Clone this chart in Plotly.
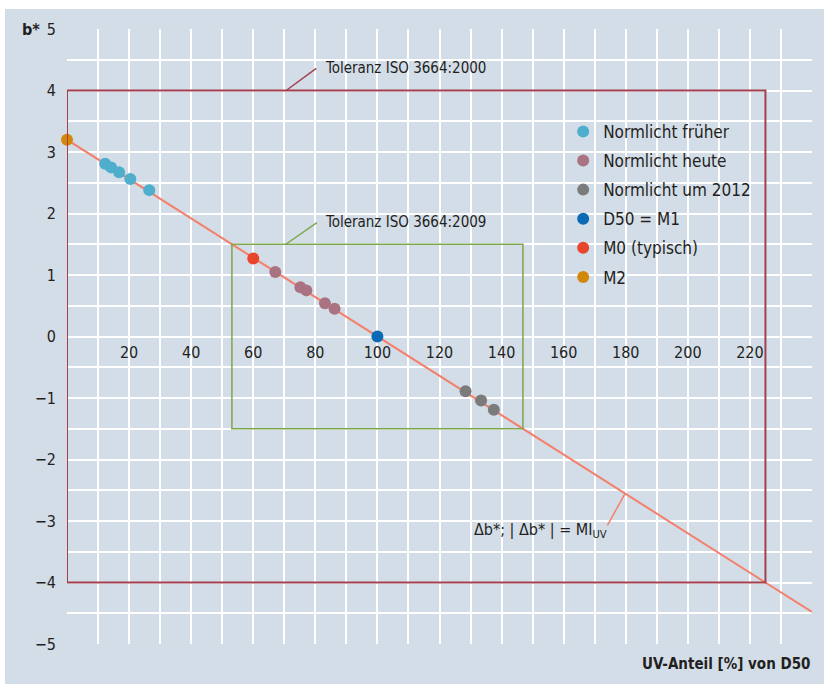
import plotly.graph_objects as go

# ---- data ----
frueher_x = [12.3, 14.2, 16.8, 20.4, 26.5]
frueher_y = [2.81, 2.75, 2.67, 2.56, 2.38]
heute_x = [67.1, 75.2, 77.1, 83.1, 86.2]
heute_y = [1.05, 0.80, 0.75, 0.54, 0.45]
um2012_x = [128.4, 133.4, 137.5]
um2012_y = [-0.89, -1.04, -1.19]
d50_x = [100]
d50_y = [0]
m0_x = [60]
m0_y = [1.27]
m2_x = [0]
m2_y = [3.2]
line_x = [0, 240]
line_y = [3.2, -4.48]
iso2000_box = [0, 225, -4, 4]
iso2009_box = [53.125, 146.875, -1.5, 1.5]

x_gridvals = list(range(10, 241, 10))
x_tickvals = list(range(20, 221, 20))
x_ticktext = [str(v) for v in x_tickvals]
y_tickvals = list(range(-5, 6))
y_ticktext = [("−" + str(abs(v)) if v < 0 else str(v)) for v in y_tickvals]

FONT = "DejaVu Sans Condensed, Liberation Sans Narrow, sans-serif"
TXT = "#231f20"
BG = "#d3dde8"
RED = "#a3404f"
GREEN = "#7ea64b"
SALMON = "#f4806c"
FS = 15

fig = go.Figure()

fig.add_trace(go.Scatter(x=line_x, y=line_y, mode="lines",
                         line=dict(color=SALMON, width=2), showlegend=False, hoverinfo="skip"))

series = [
    ("Normlicht früher", frueher_x, frueher_y, "#4eaecb"),
    ("Normlicht heute", heute_x, heute_y, "#aa7382"),
    ("Normlicht um 2012", um2012_x, um2012_y, "#7b7b7b"),
    ("D50 = M1", d50_x, d50_y, "#0a6ab5"),
    ("M0 (typisch)", m0_x, m0_y, "#e8452a"),
    ("M2", m2_x, m2_y, "#d4880a"),
]
for i, (name, xs, ys, col) in enumerate(series):
    fig.add_trace(go.Scatter(x=xs, y=ys, mode="markers", name=name, legendgroup="g%d" % i,
                             marker=dict(color=col, size=12, line=dict(width=0)),
                             cliponaxis=False))

# background with white strip top/left
fig.add_shape(type="rect", xref="paper", yref="paper", x0=-0.0832, x1=1.02, y0=-0.07, y1=1.0325,
              fillcolor=BG, line=dict(width=0), layer="below")

fig.add_shape(type="rect", x0=iso2000_box[0], x1=iso2000_box[1], y0=iso2000_box[2], y1=iso2000_box[3],
              line=dict(color=RED, width=2))
fig.add_shape(type="rect", x0=iso2009_box[0], x1=iso2009_box[1], y0=iso2009_box[2], y1=iso2009_box[3],
              line=dict(color=GREEN, width=1.5))

# leader lines
fig.add_shape(type="line", x0=70.6, y0=4.0, x1=80.3, y1=4.36, line=dict(color=RED, width=1.5))
fig.add_shape(type="line", x0=70.5, y0=1.5, x1=80.5, y1=1.85, line=dict(color=GREEN, width=1.5))
fig.add_shape(type="line", x0=174.1, y0=-3.07, x1=179.8, y1=-2.55, line=dict(color=SALMON, width=1.5))

fig.add_annotation(x=82.6, y=4.37, text="Toleranz ISO 3664:2000", showarrow=False,
                   xanchor="left", yanchor="middle", font=dict(size=FS, color=TXT, family=FONT))
fig.add_annotation(x=82.6, y=1.86, text="Toleranz ISO 3664:2009", showarrow=False,
                   xanchor="left", yanchor="middle", font=dict(size=FS, color=TXT, family=FONT))
fig.add_annotation(x=174.5, y=-3.15, text="Δb*; | Δb* | = MI<sub>UV</sub>", showarrow=False,
                   xanchor="right", yanchor="middle", font=dict(size=16, color=TXT, family=FONT))
fig.add_annotation(xref="paper", yref="paper", x=1.0, y=-0.0325, text="<b>UV-Anteil [%] von D50</b>",
                   showarrow=False, xanchor="right", yanchor="middle", font=dict(size=FS, color=TXT, family=FONT))
fig.add_annotation(xref="paper", yref="paper", x=-0.034, y=1.0, text="<b>b*</b>",
                   showarrow=False, xanchor="right", yanchor="middle", font=dict(size=16, color=TXT, family=FONT))

fig.update_layout(
    width=824, height=684,
    margin=dict(l=67, r=12, t=29, b=40),
    paper_bgcolor="white",
    plot_bgcolor="rgba(0,0,0,0)",
    font=dict(family=FONT, size=FS, color=TXT),
    showlegend=True,
    legend=dict(x=0.666, y=0.862, xanchor="left", yanchor="top", bgcolor="rgba(0,0,0,0)",
                font=dict(size=17, family=FONT, color=TXT), itemsizing="trace", tracegroupgap=4),
    xaxis=dict(range=[0, 240], tickmode="array", tickvals=x_tickvals, ticktext=x_ticktext,
               showgrid=True, gridcolor="white", gridwidth=1.5, zeroline=False, showline=False,
               minor=dict(tickmode="array", tickvals=x_gridvals, showgrid=True, gridcolor="white", gridwidth=1.5, ticks=""),
               anchor="free", position=0.5, ticks="", ticklabelstandoff=4,
               tickfont=dict(size=16, family=FONT, color=TXT)),
    yaxis=dict(range=[-5, 5], tickmode="array", tickvals=y_tickvals, ticktext=y_ticktext,
               showgrid=True, gridcolor="white", gridwidth=1.5, zeroline=False, showline=False,
               minor=dict(dtick=0.5, tick0=0, showgrid=True, gridcolor="white", gridwidth=1.5, ticks=""),
               ticks="", ticklabelstandoff=10, tickfont=dict(size=16, family=FONT, color=TXT)),
)

fig.write_html("out.html", config={"displayModeBar": False},
               post_script="document.body.style.margin='0px';document.body.style.padding='0px';")
